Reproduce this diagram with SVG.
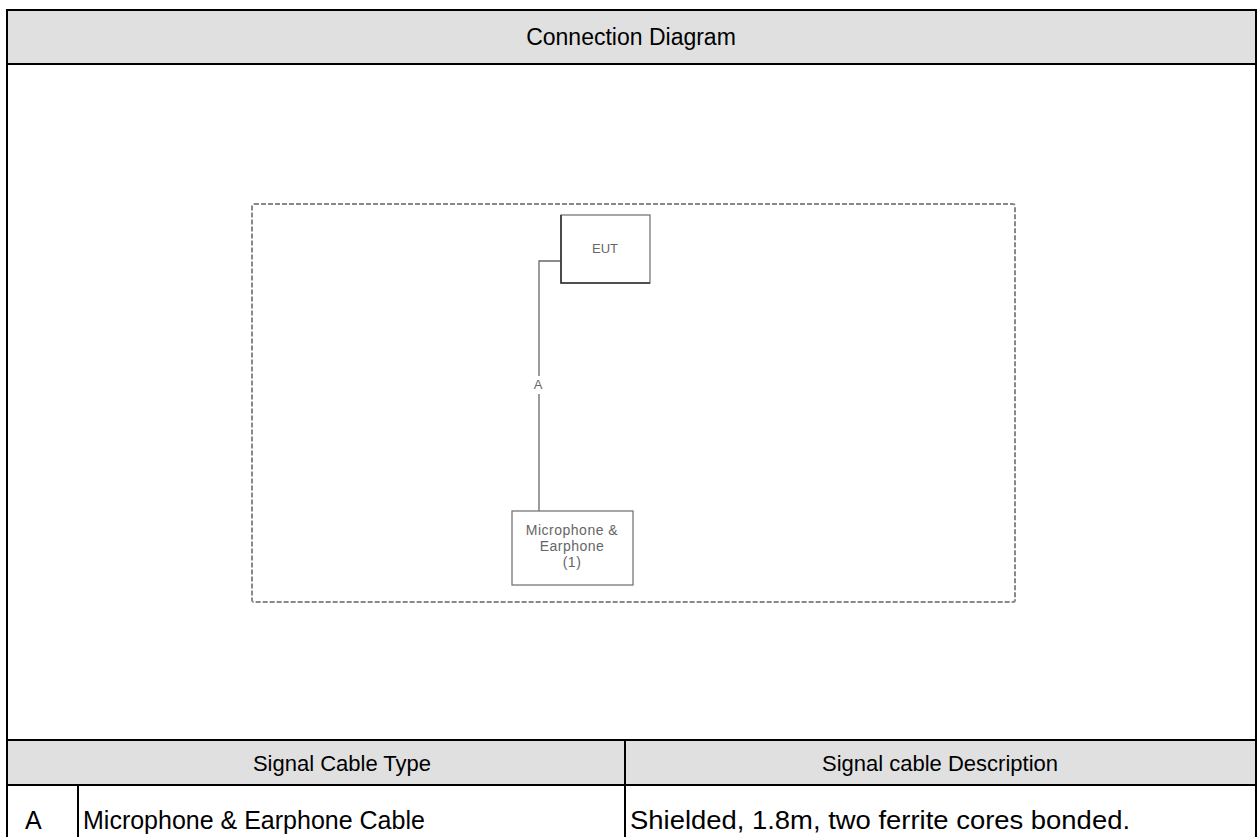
<svg xmlns="http://www.w3.org/2000/svg" width="1258" height="837" viewBox="0 0 1258 837">
<style>
.frame{fill:none;stroke:#000;stroke-width:2}
.hdr{fill:#e0e0e0}
.t{font-family:"Liberation Sans",Arial,sans-serif;fill:#000}
.title{font-size:23px}
.head{font-size:22px}
.row{font-size:25px}
.box{fill:#fff;stroke:#777;stroke-width:1.3}
.edge{stroke:#333;stroke-width:1.6}
.lbl{font-family:"Liberation Sans",Arial,sans-serif;font-size:13px;fill:#666}
.mlbl{font-size:14px;letter-spacing:0.5px}
.wire{fill:none;stroke:#666;stroke-width:1.3}
</style>
<rect width="1258" height="837" fill="#fff"/>
<g id="table">
<rect class="hdr" x="7" y="10" width="1249" height="54"/>
<rect class="hdr" x="7" y="740" width="1249" height="45"/>
<line class="frame" x1="7" y1="10" x2="1256" y2="10"/>
<line class="frame" x1="7" y1="64" x2="1256" y2="64"/>
<line class="frame" x1="7" y1="740" x2="1256" y2="740"/>
<line class="frame" x1="7" y1="785" x2="1256" y2="785"/>
<line class="frame" x1="7" y1="9" x2="7" y2="837"/>
<line class="frame" x1="1256" y1="9" x2="1256" y2="837"/>
<line class="frame" x1="625" y1="740" x2="625" y2="837"/>
<line class="frame" x1="78" y1="785" x2="78" y2="837"/>
<text class="t title" x="631" y="45" text-anchor="middle">Connection Diagram</text>
<text class="t head" x="342" y="771" text-anchor="middle">Signal Cable Type</text>
<text class="t head" x="940" y="771" text-anchor="middle">Signal cable Description</text>
<text class="t row" x="25" y="829">A</text>
<text class="t row" x="83" y="829">Microphone &amp; Earphone Cable</text>
<text class="t row" x="630" y="829" textLength="500" lengthAdjust="spacingAndGlyphs">Shielded, 1.8m, two ferrite cores bonded.</text>
</g>
<g id="boundary">
<rect x="252" y="204" width="763" height="398" rx="2" fill="none" stroke="#888" stroke-width="2" stroke-dasharray="5,2"/>
</g>
<g id="connectors">
<polyline class="wire" points="561,261 539,261 539,376"/>
<line class="wire" x1="539" y1="394" x2="539" y2="511"/>
<text class="lbl" x="538" y="389" text-anchor="middle">A</text>
</g>
<g id="eut">
<rect class="box" x="561" y="215" width="89" height="68"/>
<polyline class="edge" fill="none" points="561,215 561,283 650,283"/>
<text class="lbl" x="605" y="253" text-anchor="middle">EUT</text>
</g>
<g id="mic">
<rect class="box" x="512" y="511" width="121" height="74"/>
<text class="lbl mlbl" x="572" y="535" text-anchor="middle">Microphone &amp;</text>
<text class="lbl mlbl" x="572" y="551" text-anchor="middle">Earphone</text>
<text class="lbl mlbl" x="572" y="567" text-anchor="middle">(1)</text>
</g>
</svg>
